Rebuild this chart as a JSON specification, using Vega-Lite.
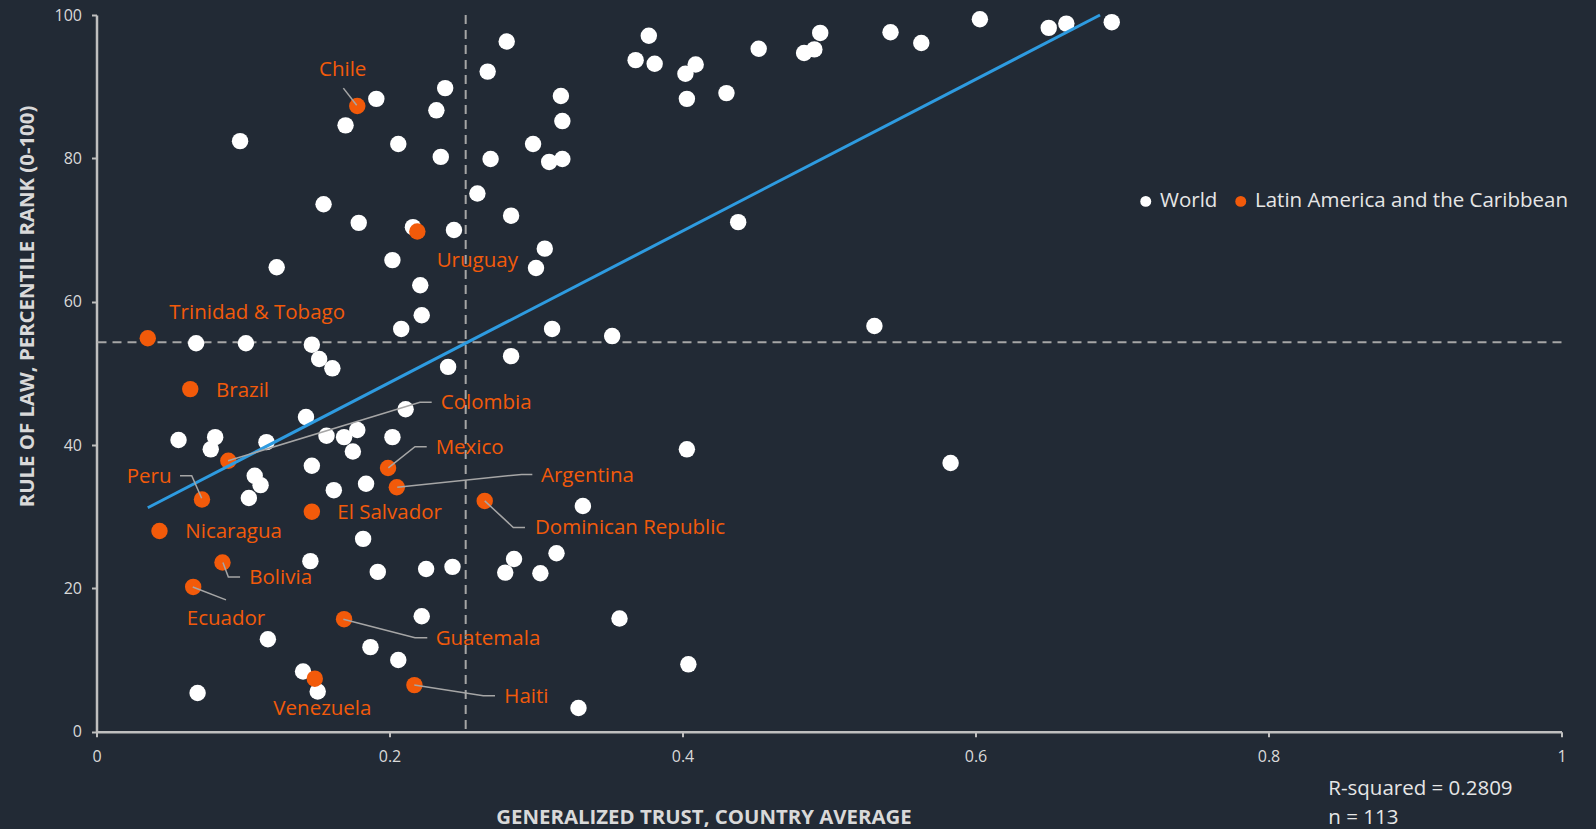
{
  "$schema": "https://vega.github.io/schema/vega-lite/v6.json",
  "width": 1465,
  "height": 716.7,
  "autosize": {"type": "none"},
  "padding": {"left": 96.5, "top": 15, "right": 34.5, "bottom": 97.3},
  "background": "#222A35",
  "config": {
    "view": {"stroke": null},
    "axis": {
      "grid": false,
      "domainColor": "#bfbfbf",
      "domainWidth": 2.5,
      "tickColor": "#bfbfbf",
      "tickWidth": 2,
      "tickSize": 5,
      "labelColor": "#d9d9d9",
      "labelFont": "Open Sans",
      "labelFontSize": 16,
      "titleColor": "#d9d9d9",
      "titleFont": "Open Sans",
      "titleFontSize": 20.4,
      "titleFontWeight": "bold"
    }
  },
  "datasets": {
    "points": [
      {"name": "", "group": "World", "x": 0.098, "y": 82.4},
      {"name": "", "group": "World", "x": 0.191, "y": 88.3},
      {"name": "", "group": "World", "x": 0.170, "y": 84.6},
      {"name": "", "group": "World", "x": 0.206, "y": 82.0},
      {"name": "", "group": "World", "x": 0.238, "y": 89.8},
      {"name": "", "group": "World", "x": 0.232, "y": 86.7},
      {"name": "", "group": "World", "x": 0.235, "y": 80.2},
      {"name": "", "group": "World", "x": 0.267, "y": 92.1},
      {"name": "", "group": "World", "x": 0.269, "y": 79.9},
      {"name": "", "group": "World", "x": 0.155, "y": 73.6},
      {"name": "", "group": "World", "x": 0.179, "y": 71.0},
      {"name": "", "group": "World", "x": 0.216, "y": 70.4},
      {"name": "", "group": "World", "x": 0.244, "y": 70.0},
      {"name": "", "group": "World", "x": 0.260, "y": 75.1},
      {"name": "", "group": "World", "x": 0.123, "y": 64.8},
      {"name": "", "group": "World", "x": 0.202, "y": 65.8},
      {"name": "", "group": "World", "x": 0.221, "y": 62.3},
      {"name": "", "group": "World", "x": 0.222, "y": 58.1},
      {"name": "", "group": "World", "x": 0.208, "y": 56.2},
      {"name": "", "group": "World", "x": 0.068, "y": 54.2},
      {"name": "", "group": "World", "x": 0.102, "y": 54.2},
      {"name": "", "group": "World", "x": 0.147, "y": 54.0},
      {"name": "", "group": "World", "x": 0.152, "y": 52.0},
      {"name": "", "group": "World", "x": 0.161, "y": 50.7},
      {"name": "", "group": "World", "x": 0.240, "y": 50.9},
      {"name": "", "group": "World", "x": 0.280, "y": 96.3},
      {"name": "", "group": "World", "x": 0.317, "y": 88.7},
      {"name": "", "group": "World", "x": 0.318, "y": 85.2},
      {"name": "", "group": "World", "x": 0.298, "y": 82.0},
      {"name": "", "group": "World", "x": 0.309, "y": 79.5},
      {"name": "", "group": "World", "x": 0.318, "y": 79.9},
      {"name": "", "group": "World", "x": 0.283, "y": 72.0},
      {"name": "", "group": "World", "x": 0.306, "y": 67.4},
      {"name": "", "group": "World", "x": 0.300, "y": 64.7},
      {"name": "", "group": "World", "x": 0.311, "y": 56.2},
      {"name": "", "group": "World", "x": 0.352, "y": 55.2},
      {"name": "", "group": "World", "x": 0.283, "y": 52.4},
      {"name": "", "group": "World", "x": 0.377, "y": 97.1},
      {"name": "", "group": "World", "x": 0.368, "y": 93.7},
      {"name": "", "group": "World", "x": 0.381, "y": 93.2},
      {"name": "", "group": "World", "x": 0.409, "y": 93.1},
      {"name": "", "group": "World", "x": 0.402, "y": 91.8},
      {"name": "", "group": "World", "x": 0.403, "y": 88.3},
      {"name": "", "group": "World", "x": 0.430, "y": 89.1},
      {"name": "", "group": "World", "x": 0.452, "y": 95.3},
      {"name": "", "group": "World", "x": 0.483, "y": 94.7},
      {"name": "", "group": "World", "x": 0.490, "y": 95.2},
      {"name": "", "group": "World", "x": 0.494, "y": 97.5},
      {"name": "", "group": "World", "x": 0.542, "y": 97.6},
      {"name": "", "group": "World", "x": 0.563, "y": 96.1},
      {"name": "", "group": "World", "x": 0.438, "y": 71.1},
      {"name": "", "group": "World", "x": 0.531, "y": 56.6},
      {"name": "", "group": "World", "x": 0.603, "y": 99.4},
      {"name": "", "group": "World", "x": 0.650, "y": 98.2},
      {"name": "", "group": "World", "x": 0.662, "y": 98.8},
      {"name": "", "group": "World", "x": 0.693, "y": 99.0},
      {"name": "", "group": "World", "x": 0.583, "y": 37.5},
      {"name": "", "group": "World", "x": 0.211, "y": 45.0},
      {"name": "", "group": "World", "x": 0.143, "y": 43.9},
      {"name": "", "group": "World", "x": 0.056, "y": 40.7},
      {"name": "", "group": "World", "x": 0.081, "y": 41.1},
      {"name": "", "group": "World", "x": 0.078, "y": 39.4},
      {"name": "", "group": "World", "x": 0.116, "y": 40.4},
      {"name": "", "group": "World", "x": 0.157, "y": 41.3},
      {"name": "", "group": "World", "x": 0.169, "y": 41.1},
      {"name": "", "group": "World", "x": 0.178, "y": 42.1},
      {"name": "", "group": "World", "x": 0.175, "y": 39.1},
      {"name": "", "group": "World", "x": 0.202, "y": 41.1},
      {"name": "", "group": "World", "x": 0.147, "y": 37.1},
      {"name": "", "group": "World", "x": 0.108, "y": 35.7},
      {"name": "", "group": "World", "x": 0.112, "y": 34.4},
      {"name": "", "group": "World", "x": 0.104, "y": 32.6},
      {"name": "", "group": "World", "x": 0.162, "y": 33.7},
      {"name": "", "group": "World", "x": 0.184, "y": 34.6},
      {"name": "", "group": "World", "x": 0.182, "y": 26.9},
      {"name": "", "group": "World", "x": 0.146, "y": 23.8},
      {"name": "", "group": "World", "x": 0.192, "y": 22.3},
      {"name": "", "group": "World", "x": 0.225, "y": 22.7},
      {"name": "", "group": "World", "x": 0.243, "y": 23.0},
      {"name": "", "group": "World", "x": 0.222, "y": 16.1},
      {"name": "", "group": "World", "x": 0.117, "y": 12.9},
      {"name": "", "group": "World", "x": 0.187, "y": 11.8},
      {"name": "", "group": "World", "x": 0.206, "y": 10.0},
      {"name": "", "group": "World", "x": 0.141, "y": 8.4},
      {"name": "", "group": "World", "x": 0.151, "y": 5.6},
      {"name": "", "group": "World", "x": 0.069, "y": 5.4},
      {"name": "", "group": "World", "x": 0.403, "y": 39.4},
      {"name": "", "group": "World", "x": 0.332, "y": 31.5},
      {"name": "", "group": "World", "x": 0.285, "y": 24.1},
      {"name": "", "group": "World", "x": 0.279, "y": 22.2},
      {"name": "", "group": "World", "x": 0.303, "y": 22.1},
      {"name": "", "group": "World", "x": 0.314, "y": 24.9},
      {"name": "", "group": "World", "x": 0.357, "y": 15.8},
      {"name": "", "group": "World", "x": 0.404, "y": 9.4},
      {"name": "", "group": "World", "x": 0.329, "y": 3.3},
      {"name": "Chile", "group": "Latin America and the Caribbean", "x": 0.178, "y": 87.3, "lx": 0.1519, "ly": 92.3},
      {"name": "Uruguay", "group": "Latin America and the Caribbean", "x": 0.219, "y": 69.8, "lx": 0.2322, "ly": 65.7},
      {"name": "Trinidad & Tobago", "group": "Latin America and the Caribbean", "x": 0.035, "y": 54.9, "lx": 0.0497, "ly": 58.46},
      {"name": "Brazil", "group": "Latin America and the Caribbean", "x": 0.064, "y": 47.8, "lx": 0.0816, "ly": 47.6},
      {"name": "Colombia", "group": "Latin America and the Caribbean", "x": 0.090, "y": 37.8, "lx": 0.235, "ly": 45.8},
      {"name": "Mexico", "group": "Latin America and the Caribbean", "x": 0.199, "y": 36.8, "lx": 0.2315, "ly": 39.6},
      {"name": "Argentina", "group": "Latin America and the Caribbean", "x": 0.205, "y": 34.1, "lx": 0.3034, "ly": 35.7},
      {"name": "Peru", "group": "Latin America and the Caribbean", "x": 0.072, "y": 32.4, "lx": 0.0206, "ly": 35.6},
      {"name": "El Salvador", "group": "Latin America and the Caribbean", "x": 0.147, "y": 30.7, "lx": 0.1644, "ly": 30.56},
      {"name": "Dominican Republic", "group": "Latin America and the Caribbean", "x": 0.265, "y": 32.2, "lx": 0.2993, "ly": 28.4},
      {"name": "Nicaragua", "group": "Latin America and the Caribbean", "x": 0.043, "y": 28.0, "lx": 0.0606, "ly": 27.8},
      {"name": "Bolivia", "group": "Latin America and the Caribbean", "x": 0.086, "y": 23.6, "lx": 0.1043, "ly": 21.5},
      {"name": "Ecuador", "group": "Latin America and the Caribbean", "x": 0.066, "y": 20.2, "lx": 0.0616, "ly": 15.7},
      {"name": "Guatemala", "group": "Latin America and the Caribbean", "x": 0.169, "y": 15.7, "lx": 0.2315, "ly": 12.9},
      {"name": "Venezuela", "group": "Latin America and the Caribbean", "x": 0.149, "y": 7.4, "lx": 0.1207, "ly": 3.1},
      {"name": "Haiti", "group": "Latin America and the Caribbean", "x": 0.217, "y": 6.5, "lx": 0.2784, "ly": 4.9}
    ],
    "trend": [
      {"x": 0.035, "y": 31.25},
      {"x": 0.685, "y": 100}
    ],
    "means": [
      {"x": 0.252, "y": 54.33}
    ],
    "leaders": [
      {"name": "Chile", "seq": 1, "x": 0.1685, "y": 89.8},
      {"name": "Chile", "seq": 2, "x": 0.1776, "y": 87.4},
      {"name": "Colombia", "seq": 1, "x": 0.0898, "y": 37.8},
      {"name": "Colombia", "seq": 2, "x": 0.2208, "y": 45.96},
      {"name": "Colombia", "seq": 3, "x": 0.2288, "y": 45.96},
      {"name": "Mexico", "seq": 1, "x": 0.1992, "y": 36.8},
      {"name": "Mexico", "seq": 2, "x": 0.2174, "y": 39.77},
      {"name": "Mexico", "seq": 3, "x": 0.2254, "y": 39.77},
      {"name": "Argentina", "seq": 1, "x": 0.2053, "y": 34.1},
      {"name": "Argentina", "seq": 2, "x": 0.2902, "y": 35.9},
      {"name": "Argentina", "seq": 3, "x": 0.2975, "y": 35.9},
      {"name": "Peru", "seq": 1, "x": 0.057, "y": 35.72},
      {"name": "Peru", "seq": 2, "x": 0.065, "y": 35.72},
      {"name": "Peru", "seq": 3, "x": 0.0718, "y": 32.57},
      {"name": "Dominican Republic", "seq": 1, "x": 0.265, "y": 32.2},
      {"name": "Dominican Republic", "seq": 2, "x": 0.2845, "y": 28.5},
      {"name": "Dominican Republic", "seq": 3, "x": 0.2925, "y": 28.5},
      {"name": "Bolivia", "seq": 1, "x": 0.0863, "y": 23.6},
      {"name": "Bolivia", "seq": 2, "x": 0.09, "y": 21.6},
      {"name": "Bolivia", "seq": 3, "x": 0.098, "y": 21.6},
      {"name": "Ecuador", "seq": 1, "x": 0.0657, "y": 20.2},
      {"name": "Ecuador", "seq": 2, "x": 0.0884, "y": 18.4},
      {"name": "Guatemala", "seq": 1, "x": 0.1685, "y": 15.7},
      {"name": "Guatemala", "seq": 2, "x": 0.2174, "y": 13.1},
      {"name": "Guatemala", "seq": 3, "x": 0.2258, "y": 13.1},
      {"name": "Haiti", "seq": 1, "x": 0.2169, "y": 6.5},
      {"name": "Haiti", "seq": 2, "x": 0.264, "y": 5.0},
      {"name": "Haiti", "seq": 3, "x": 0.272, "y": 5.0}
    ],
    "notes": [
      {"note": "R-squared = 0.2809", "x": 0.8408, "y": -8.83},
      {"note": "n = 113", "x": 0.8408, "y": -12.88}
    ]
  },
  "layer": [
    {
      "data": {"name": "means"},
      "mark": {"type": "rule", "color": "#a6a6a6", "strokeWidth": 2, "strokeDash": [9, 6]},
      "encoding": {
        "x": {"field": "x", "type": "quantitative", "scale": {"domain": [0, 1], "nice": false, "zero": false}}
      }
    },
    {
      "data": {"name": "means"},
      "mark": {"type": "rule", "color": "#a6a6a6", "strokeWidth": 2, "strokeDash": [9, 6]},
      "encoding": {
        "y": {"field": "y", "type": "quantitative", "scale": {"domain": [0, 100], "nice": false, "zero": false}}
      }
    },
    {
      "data": {"name": "points"},
      "mark": {"type": "point", "shape": "circle", "filled": true, "size": 270, "opacity": 1, "strokeWidth": 0},
      "encoding": {
        "x": {
          "field": "x", "type": "quantitative",
          "scale": {"domain": [0, 1], "nice": false, "zero": false},
          "axis": {
            "title": "GENERALIZED TRUST, COUNTRY AVERAGE",
            "values": [0, 0.2, 0.4, 0.6, 0.8, 1],
            "format": "~g",
            "labelFlush": false,
            "labelPadding": 12,
            "titleX": 607,
            "titleY": 91.6,
            "titleAlign": "center",
            "titleBaseline": "alphabetic"
          }
        },
        "y": {
          "field": "y", "type": "quantitative",
          "scale": {"domain": [0, 100], "nice": false, "zero": false},
          "axis": {
            "title": "RULE OF LAW, PERCENTILE RANK (0-100)",
            "values": [0, 20, 40, 60, 80, 100],
            "labelPadding": 10,
            "titleX": -63,
            "titleY": 291,
            "titleAngle": 270,
            "titleAlign": "center",
            "titleBaseline": "alphabetic"
          }
        },
        "color": {
          "field": "group", "type": "nominal",
          "scale": {"domain": ["World", "Latin America and the Caribbean"], "range": ["#ffffff", "#F25A0A"]},
          "legend": {
            "title": null,
            "orient": "none",
            "legendX": 1039,
            "legendY": 176,
            "direction": "horizontal",
            "padding": 0,
            "labelFont": "Open Sans",
            "labelFontSize": 20.5,
            "labelColor": "#e6e6e6",
            "labelOffset": 4,
            "labelLimit": 0,
            "columnPadding": 13,
            "symbolType": "circle",
            "symbolSize": 120,
            "symbolStrokeWidth": 0,
            "symbolOpacity": 1
          }
        }
      }
    },
    {
      "data": {"name": "trend"},
      "mark": {"type": "line", "color": "#2E9BE0", "strokeWidth": 3},
      "encoding": {
        "x": {"field": "x", "type": "quantitative"},
        "y": {"field": "y", "type": "quantitative"}
      }
    },
    {
      "data": {"name": "leaders"},
      "mark": {"type": "line", "color": "#a6a6a6", "strokeWidth": 1.5},
      "encoding": {
        "x": {"field": "x", "type": "quantitative"},
        "y": {"field": "y", "type": "quantitative"},
        "detail": {"field": "name", "type": "nominal"},
        "order": {"field": "seq", "type": "quantitative"}
      }
    },
    {
      "data": {"name": "points"},
      "transform": [{"filter": "isValid(datum.lx)"}],
      "mark": {"type": "text", "align": "left", "baseline": "middle", "font": "Open Sans", "fontSize": 20.5, "color": "#F25A0A"},
      "encoding": {
        "x": {"field": "lx", "type": "quantitative"},
        "y": {"field": "ly", "type": "quantitative"},
        "text": {"field": "name", "type": "nominal"}
      }
    },
    {
      "data": {"name": "notes"},
      "mark": {"type": "text", "align": "left", "baseline": "alphabetic", "font": "Open Sans", "fontSize": 20.5, "color": "#e6e6e6"},
      "encoding": {
        "x": {"field": "x", "type": "quantitative"},
        "y": {"field": "y", "type": "quantitative"},
        "text": {"field": "note", "type": "nominal"}
      }
    }
  ]
}
